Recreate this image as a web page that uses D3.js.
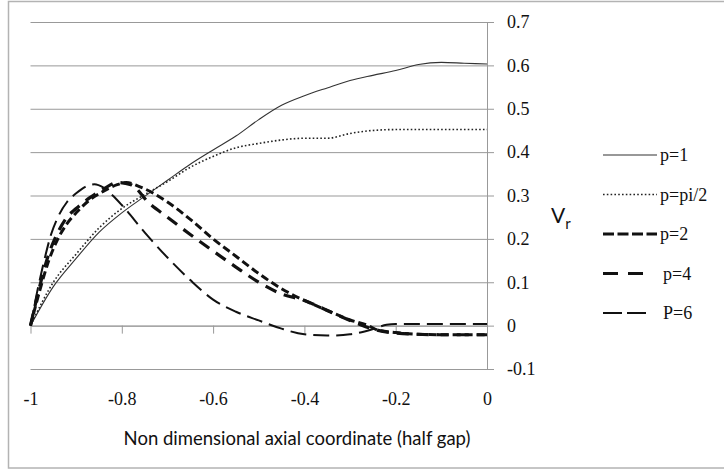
<!DOCTYPE html>
<html><head><meta charset="utf-8">
<script src="https://cdn.jsdelivr.net/npm/d3@7"></script>
<style>
html,body{margin:0;padding:0;background:#fff;}
svg{display:block;}
</style></head>
<body>
<svg id="chart" width="724" height="470"></svg>
<script>
// ---- data ----
const xTicks = [-1, -0.8, -0.6, -0.4, -0.2, 0];
const xTickLabels = ["-1", "-0.8", "-0.6", "-0.4", "-0.2", "0"];
const yTicks = [-0.1, 0, 0.1, 0.2, 0.3, 0.4, 0.5, 0.6, 0.7];
const yTickLabels = ["-0.1", "0", "0.1", "0.2", "0.3", "0.4", "0.5", "0.6", "0.7"];

const seriesNames = ["p=1", "p=pi/2", "p=2", "p=4", "P=6"];

const xP1 = [-1, -0.95, -0.9, -0.85, -0.8, -0.75, -0.7, -0.65, -0.6, -0.55, -0.5, -0.45, -0.4, -0.35, -0.3, -0.25, -0.2, -0.15, -0.1, -0.05, 0];
const yP1 = [0, 0.09, 0.155, 0.215, 0.26, 0.298, 0.335, 0.372, 0.405, 0.437, 0.475, 0.508, 0.53, 0.548, 0.565, 0.577, 0.588, 0.602, 0.607, 0.605, 0.603];

const xPpi2 = [-1, -0.95, -0.9, -0.85, -0.8, -0.75, -0.7, -0.65, -0.6, -0.55, -0.5, -0.45, -0.4, -0.35, -0.3, -0.25, -0.2, -0.15, -0.1, -0.05, 0];
const yPpi2 = [0, 0.10, 0.165, 0.225, 0.27, 0.302, 0.332, 0.365, 0.39, 0.41, 0.42, 0.428, 0.432, 0.432, 0.443, 0.45, 0.452, 0.452, 0.452, 0.452, 0.452];

const xP2 = [-1, -0.98, -0.96, -0.94, -0.92, -0.9, -0.87, -0.84, -0.81, -0.79, -0.76, -0.7, -0.65, -0.6, -0.55, -0.5, -0.45, -0.4, -0.35, -0.3, -0.26, -0.24, -0.2, -0.15, -0.1, 0];
const yP2 = [0, 0.08, 0.15, 0.2, 0.235, 0.26, 0.29, 0.31, 0.325, 0.33, 0.32, 0.285, 0.245, 0.2, 0.16, 0.12, 0.085, 0.058, 0.035, 0.013, 0.0, -0.01, -0.016, -0.02, -0.021, -0.021];

const xP4 = [-1, -0.98, -0.96, -0.94, -0.92, -0.9, -0.87, -0.84, -0.81, -0.78, -0.74, -0.7, -0.65, -0.6, -0.55, -0.5, -0.45, -0.4, -0.35, -0.3, -0.25, -0.2, -0.1, 0];
const yP4 = [0, 0.09, 0.165, 0.215, 0.25, 0.27, 0.295, 0.315, 0.33, 0.325, 0.282, 0.25, 0.21, 0.172, 0.135, 0.1, 0.073, 0.058, 0.035, 0.012, -0.008, -0.017, -0.021, -0.021];

const xP6 = [-1, -0.985, -0.97, -0.955, -0.94, -0.92, -0.9, -0.88, -0.86, -0.84, -0.82, -0.8, -0.75, -0.7, -0.65, -0.6, -0.55, -0.5, -0.45, -0.4, -0.35, -0.3, -0.25, -0.22, -0.2, -0.1, 0];
const yP6 = [0, 0.08, 0.15, 0.21, 0.25, 0.285, 0.305, 0.32, 0.326, 0.318, 0.3, 0.278, 0.215, 0.157, 0.105, 0.06, 0.032, 0.012, -0.007, -0.02, -0.023, -0.02, -0.008, 0.002, 0.004, 0.004, 0.004];

// ---- build ----
const seriesX = [xP1, xPpi2, xP2, xP4, xP6];
const seriesY = [yP1, yPpi2, yP2, yP4, yP6];
const styles = [
  {w: 1.1, dash: null, color: "#333"},
  {w: 1.6, dash: "1.6,2.2", color: "#222"},
  {w: 3, dash: "8,4", color: "#111"},
  {w: 3.2, dash: "12,8", color: "#111"},
  {w: 2, dash: "16,7", color: "#111"}
];
const legendDash = ["", "1.6,2.2", "11,3.5", "15,10", "19,5"];
const legendEnd = [657, 657, 657, 643, 648];

const svg = d3.select("#chart");
const x = d3.scaleLinear().domain([-1, 0]).range([30.5, 487]);
const y = d3.scaleLinear().domain([-0.1, 0.7]).range([369, 22]);

// outer frame
svg.append("rect").attr("x", 8.5).attr("y", 1.5).attr("width", 730).attr("height", 466.5)
  .attr("fill", "none").attr("stroke", "#b3b3b3").attr("stroke-width", 1.5);

// gridlines
const grid = svg.append("g").attr("transform", "translate(487,0)")
  .call(d3.axisLeft(y).tickValues(yTicks).tickSize(487 - 30.5).tickFormat(""));
grid.select(".domain").remove();
grid.selectAll("line").attr("stroke", "#999").attr("stroke-width", 1);

// y axis (right)
const yAx = svg.append("g").attr("transform", "translate(487,0)")
  .call(d3.axisRight(y).tickValues(yTicks).tickSize(7).tickSizeOuter(0).tickPadding(13)
    .tickFormat((d, i) => yTickLabels[i]));
yAx.select(".domain").attr("stroke", "#999");
yAx.selectAll("line").attr("stroke", "#999");
yAx.selectAll("text").attr("font-family", "'Liberation Serif', serif").attr("font-size", 18).attr("fill", "#111");

// x axis at y=0 with ticks downward
const xAx = svg.append("g").attr("transform", `translate(0,${y(0)})`)
  .call(d3.axisBottom(x).tickValues(xTicks).tickSize(8).tickSizeOuter(0).tickFormat(""));
xAx.select(".domain").attr("stroke", "#999");
xAx.selectAll("line").attr("stroke", "#999");

// x tick labels at bottom
const xLab = svg.append("g").attr("transform", "translate(0,390)")
  .call(d3.axisBottom(x).tickValues(xTicks).tickSize(0).tickPadding(2)
    .tickFormat((d, i) => xTickLabels[i]));
xLab.select(".domain").remove();
xLab.selectAll("text").attr("font-family", "'Liberation Serif', serif").attr("font-size", 18).attr("fill", "#111");

// series
const line = d3.line().x(d => x(d[0])).y(d => y(d[1])).curve(d3.curveMonotoneX);
seriesNames.forEach((name, i) => {
  const pts = seriesX[i].map((v, j) => [v, seriesY[i][j]]);
  svg.append("path").datum(pts).attr("d", line)
    .attr("fill", "none").attr("stroke", styles[i].color)
    .attr("stroke-width", styles[i].w)
    .attr("stroke-dasharray", styles[i].dash)
    .attr("stroke-linejoin", "round");
});

// legend
const lg = svg.append("g");
seriesNames.forEach((name, i) => {
  const yy = 155 + i * 39.5;
  lg.append("line").attr("x1", 603).attr("x2", legendEnd[i]).attr("y1", yy).attr("y2", yy)
    .attr("stroke", styles[i].color).attr("stroke-width", styles[i].w)
    .attr("stroke-dasharray", legendDash[i] || null);
  lg.append("text").attr("x", i >= 3 ? 663 : 660).attr("y", yy).attr("dy", "0.35em")
    .attr("font-family", "'Liberation Serif', serif").attr("font-size", 18).attr("fill", "#111")
    .text(name);
});

// y axis title V_r
const vt = svg.append("text").attr("x", 551).attr("y", 223)
  .attr("font-family", "Lato, 'Open Sans', sans-serif").attr("font-size", 21).attr("fill", "#111");
vt.append("tspan").text("V");
vt.append("tspan").attr("dy", 6).attr("font-size", 15).text("r");

// x axis title
svg.append("text").attr("x", 297).attr("y", 445).attr("text-anchor", "middle")
  .attr("font-family", "Lato, 'Open Sans', sans-serif").attr("font-size", 18.5).attr("fill", "#111")
  .text("Non dimensional axial coordinate (half gap)");
</script>
</body></html>
